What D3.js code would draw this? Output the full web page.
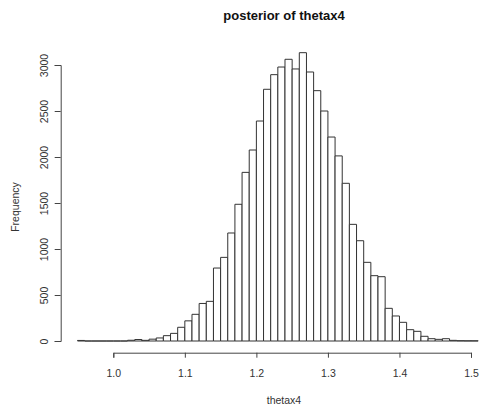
<!DOCTYPE html>
<html>
<head>
<meta charset="utf-8">
<script src="https://cdn.jsdelivr.net/npm/d3@7"></script>
<style>
  body { margin: 0; background: #fff; }
  svg text { font-family: "Liberation Sans", Arial, sans-serif; }
</style>
</head>
<body>
<div id="graph"></div>
<script>
// lower edge of each 0.01 wide bin
var binStarts = [0.95, 0.96, 0.97, 0.98, 0.99, 1.00, 1.01, 1.02, 1.03, 1.04,
    1.05, 1.06, 1.07, 1.08, 1.09, 1.10, 1.11, 1.12, 1.13, 1.14,
    1.15, 1.16, 1.17, 1.18, 1.19, 1.20, 1.21, 1.22, 1.23, 1.24,
    1.25, 1.26, 1.27, 1.28, 1.29, 1.30, 1.31, 1.32, 1.33, 1.34,
    1.35, 1.36, 1.37, 1.38, 1.39, 1.40, 1.41, 1.42, 1.43, 1.44,
    1.45, 1.46, 1.47, 1.48, 1.49, 1.50];
var binWidth = 0.01;

// frequency per bin
var counts = [6, 0, 0, 0, 0, 0, 0, 8, 16, 7,
    20, 33, 58, 83, 149, 219, 290, 408, 431, 793,
    909, 1174, 1486, 1833, 2076, 2391, 2736, 2895, 2978, 3062,
    2957, 3134, 2924, 2721, 2500, 2217, 2012, 1714, 1268, 1090,
    855, 710, 699, 355, 272, 203, 123, 105, 51, 25,
    18, 25, 7, 3, 2, 2];

var xTicks = [1.0, 1.1, 1.2, 1.3, 1.4, 1.5];
var yTicks = [0, 500, 1000, 1500, 2000, 2500, 3000];

var title = "posterior of thetax4";
var xLabel = "thetax4";
var yLabel = "Frequency";

var svg = d3.select("#graph").append("svg")
    .attr("width", 485)
    .attr("height", 409);

var x = d3.scaleLinear().domain([1.0, 1.5]).range([113.3, 471]);
var y = d3.scaleLinear().domain([0, 3000]).range([341, 65]);

// bars as closed paths so that empty bins still show on the baseline
svg.append("g")
    .selectAll("path")
    .data(binStarts)
    .join("path")
    .attr("d", function(d, i) {
        var x0 = x(d), x1 = x(d + binWidth);
        var y0 = y(0), y1 = y(counts[i]);
        return "M" + x0 + "," + y0 + "V" + y1 + "H" + x1 + "V" + y0 + "Z";
    })
    .style("fill", "#fff")
    .style("stroke", "#333")
    .style("stroke-width", 1);

// x axis
var gx = svg.append("g")
    .attr("transform", "translate(0,352.7)")
    .call(d3.axisBottom(x)
        .tickValues(xTicks)
        .tickFormat(d3.format(".1f"))
        .tickSize(5)
        .tickPadding(11.5));
gx.selectAll("path, line").style("stroke", "#444");
gx.selectAll("text")
    .style("font-size", "10.5px")
    .style("fill", "#333");

// y axis, labels parallel to axis
var gy = svg.append("g")
    .attr("transform", "translate(60.7,0)")
    .call(d3.axisLeft(y)
        .tickValues(yTicks)
        .tickFormat(d3.format("d"))
        .tickSize(6));
gy.selectAll("path, line").style("stroke", "#444");
gy.selectAll("text")
    .attr("x", null)
    .attr("dy", null)
    .attr("transform", "translate(-12.7,0) rotate(-90)")
    .attr("text-anchor", "middle")
    .style("font-size", "10.5px")
    .style("fill", "#333");

svg.selectAll(".domain").style("fill", "none");

// titles
svg.append("text")
    .attr("x", 284)
    .attr("y", 20)
    .attr("text-anchor", "middle")
    .style("font-size", "13px")
    .style("font-weight", "bold")
    .style("fill", "#111")
    .text(title);

svg.append("text")
    .attr("x", 284)
    .attr("y", 403.5)
    .attr("text-anchor", "middle")
    .style("font-size", "10.5px")
    .style("fill", "#333")
    .text(xLabel);

svg.append("text")
    .attr("transform", "translate(19,207) rotate(-90)")
    .attr("text-anchor", "middle")
    .style("font-size", "10.5px")
    .style("fill", "#333")
    .text(yLabel);
</script>
</body>
</html>
